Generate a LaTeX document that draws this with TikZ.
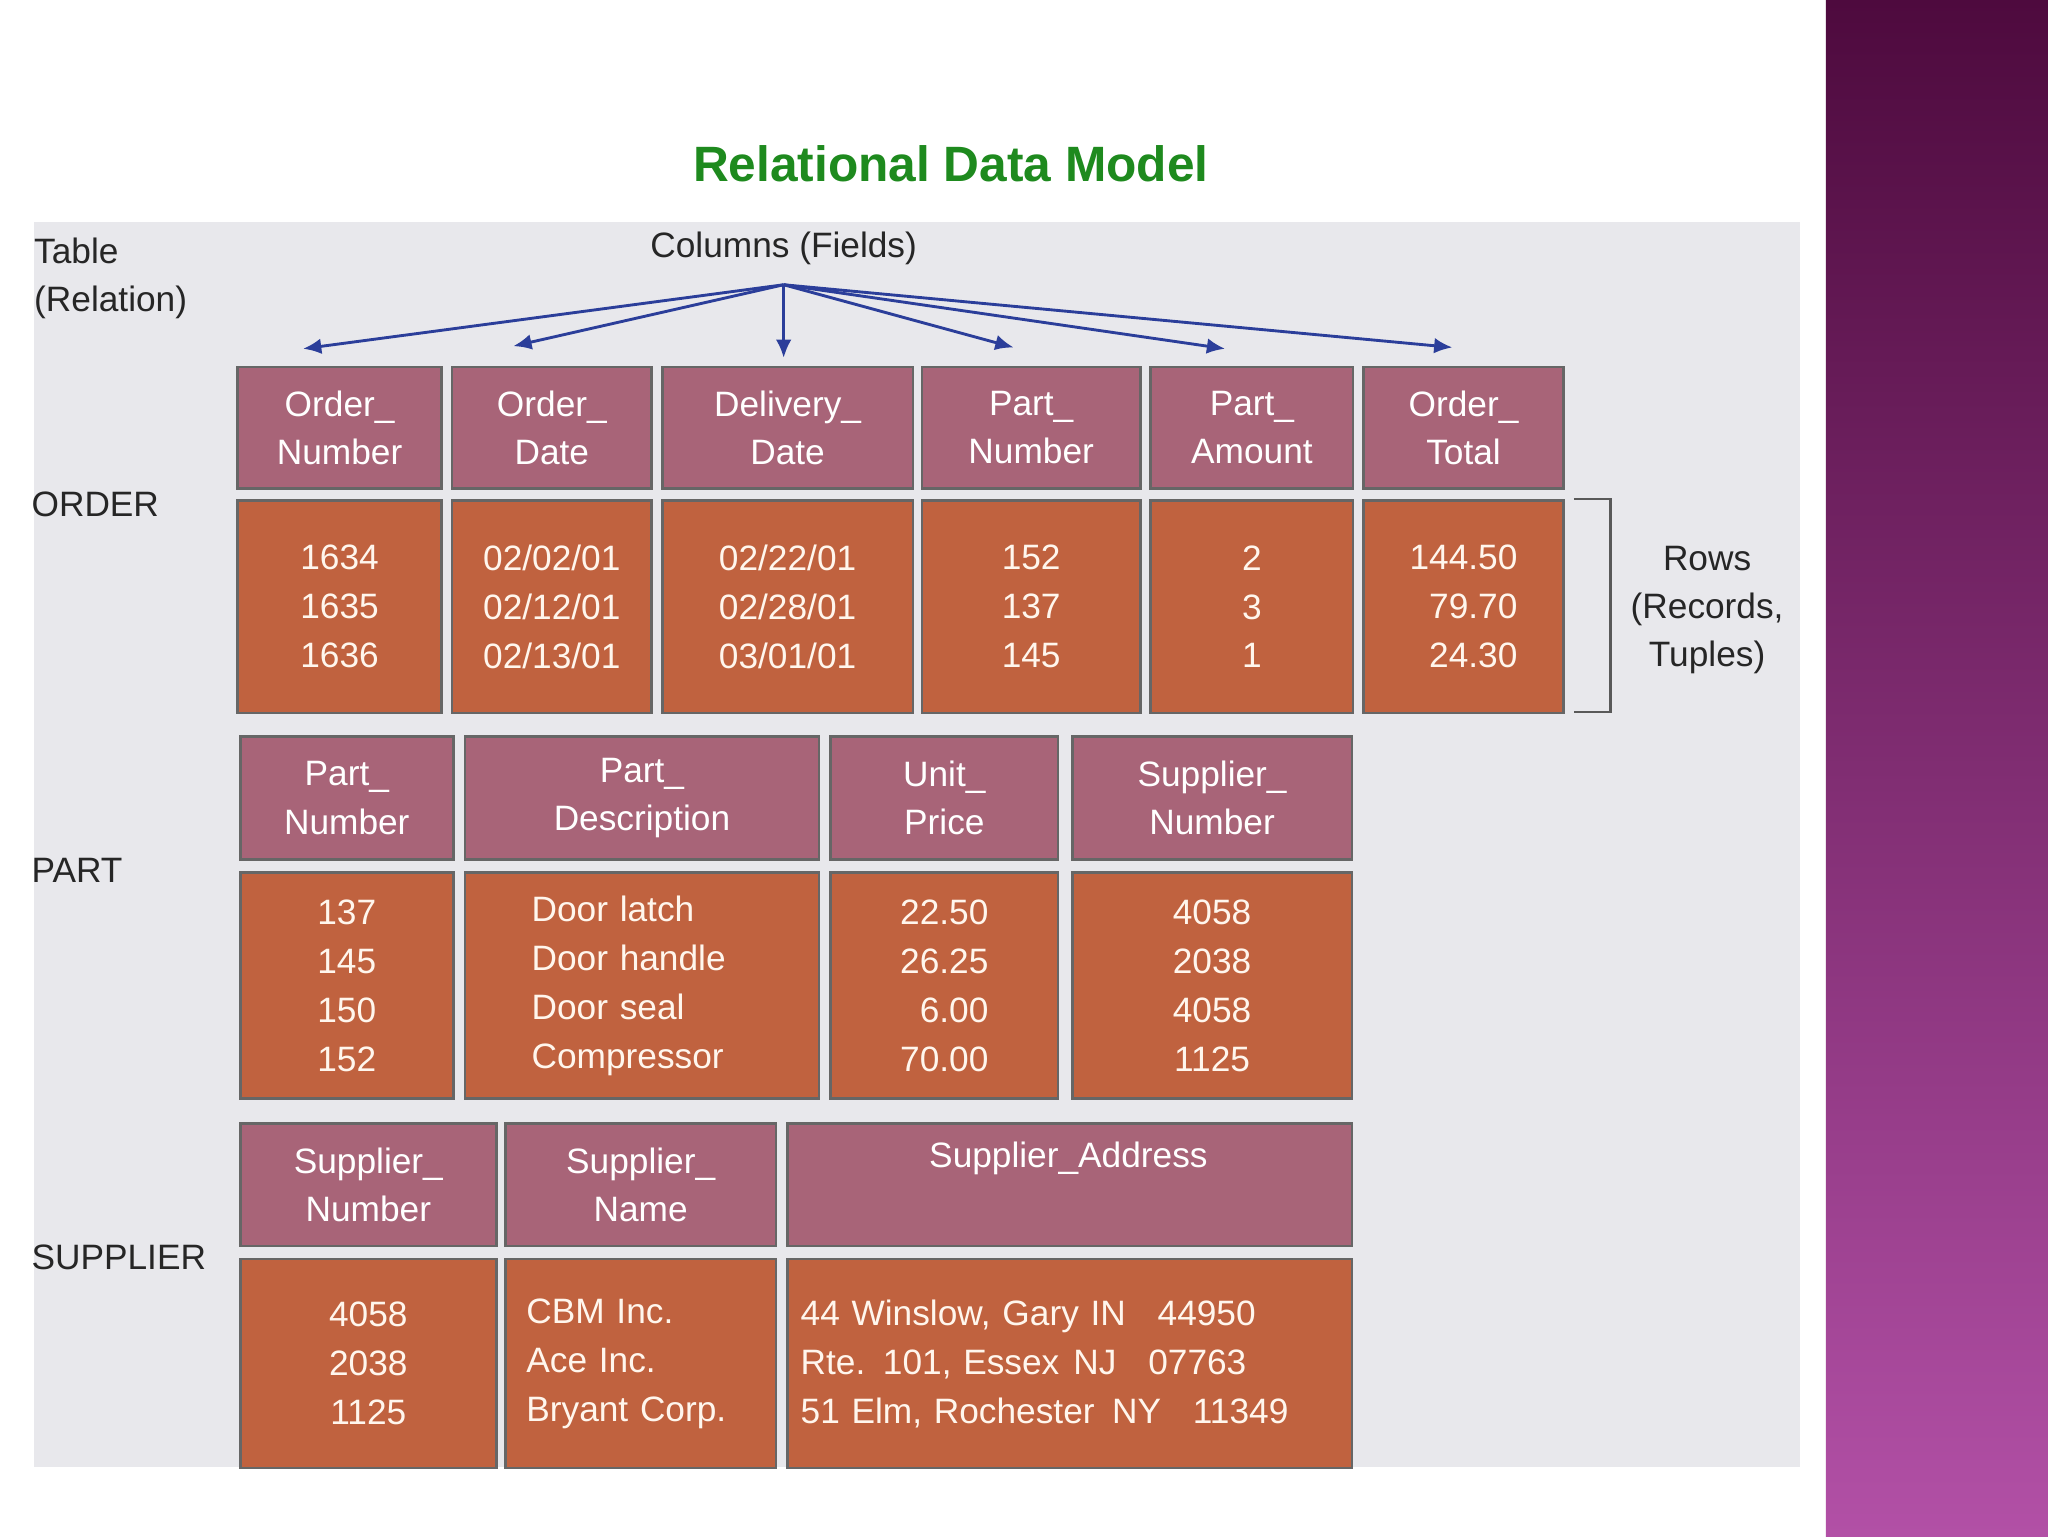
\documentclass[tikz,border=0pt]{standalone}
\usepackage{fontspec}
\setmainfont{Liberation Sans}
\begin{document}
\begin{tikzpicture}[x=1pt,y=-1pt,
  hdr/.style={draw=black!60,line width=2pt,fill=hdrc,text=white,font=\fontsize{27}{37}\selectfont,inner sep=0pt,anchor=north west},
  dat/.style={draw=black!60,line width=2pt,fill=datc,text=white!93!orange,font=\fontsize{27}{37.5}\selectfont,inner sep=0pt,anchor=north west},
  lbl/.style={font=\fontsize{27}{37}\selectfont,text=black!85,inner sep=0pt},
  arr/.style={draw=arrc,line width=2.2pt,-{Latex[length=14pt,width=12pt]}}]
\usetikzlibrary{arrows.meta}
\definecolor{hdrc}{HTML}{A86478}
\definecolor{datc}{HTML}{C0623F}
\definecolor{arrc}{HTML}{2B3E9A}
\definecolor{panel}{HTML}{E8E8EC}
\definecolor{ttl}{HTML}{1E8A1E}
\useasboundingbox (0,0) rectangle (1568,1176);
\fill[white] (0,0) rectangle (1568,1176);
\shade[top color={rgb,255:red,78;green,10;blue,62},bottom color={rgb,255:red,178;green,80;blue,166}] (1398,0) rectangle (1568,1176);
\fill[panel] (26,170) rectangle (1378,1123);
\node[font=\bfseries\fontsize{38}{40}\selectfont,text=ttl] (title) at (728,125) {Relational Data Model};
% labels
\node[lbl,anchor=north west,align=left] (tbl) at (26,182) {Table\\(Relation)};
\node[lbl,anchor=west] (lord) at (24,386) {ORDER};
\node[lbl,anchor=west] (lpart) at (24,666) {PART};
\node[lbl,anchor=west] (lsup) at (24,963) {SUPPLIER};
\node[lbl] (cols) at (600,190) {Columns (Fields)};
\node[lbl,align=center] (rows) at (1307,467) {Rows\\(Records,\\Tuples)};
% ORDER
\node[hdr,minimum width=156,minimum height=93,align=center] (h1) at (181,280) {Order\_\\Number};
\node[hdr,minimum width=153,minimum height=93,align=center] (h2) at (345,280) {Order\_\\Date};
\node[hdr,minimum width=192,minimum height=93,align=center] (h3) at (506,280) {Delivery\_\\Date};
\node[hdr,minimum width=167,minimum height=93,align=center] (h4) at (705,280) {Part\_\\Number};
\node[hdr,minimum width=155,minimum height=93,align=center] (h5) at (880,280) {Part\_\\Amount};
\node[hdr,minimum width=153,minimum height=93,align=center] (h6) at (1043,280) {Order\_\\Total};
\node[dat,minimum width=156,minimum height=163,align=center] (d1) at (181,382) {1634\\1635\\1636};
\node[dat,minimum width=153,minimum height=163,align=center] (d2) at (345,382) {02/02/01\\02/12/01\\02/13/01};
\node[dat,minimum width=192,minimum height=163,align=center] (d3) at (506,382) {02/22/01\\02/28/01\\03/01/01};
\node[dat,minimum width=167,minimum height=163,align=center] (d4) at (705,382) {152\\137\\145};
\node[dat,minimum width=155,minimum height=163,align=center] (d5) at (880,382) {2\\3\\1};
\node[dat,minimum width=153,minimum height=163,align=right] (d6) at (1043,382) {144.50\\79.70\\24.30};
% PART
\node[hdr,minimum width=163,minimum height=94,align=center] (p1) at (183,563) {Part\_\\Number};
\node[hdr,minimum width=271,minimum height=94,align=center] (p2) at (355,563) {Part\_\\Description};
\node[hdr,minimum width=174,minimum height=94,align=center] (p3) at (635,563) {Unit\_\\Price};
\node[hdr,minimum width=214,minimum height=94,align=center] (p4) at (820,563) {Supplier\_\\Number};
\node[dat,minimum width=163,minimum height=173,align=center] (q1) at (183,667) {137\\145\\150\\152};
\node[dat,minimum width=271,minimum height=173,text width=169,align=left] (q2) at (355,667) {Door latch\\Door handle\\Door seal\\Compressor};
\node[dat,minimum width=174,minimum height=173,align=right] (q3) at (635,667) {22.50\\26.25\\6.00\\70.00};
\node[dat,minimum width=214,minimum height=173,align=center] (q4) at (820,667) {4058\\2038\\4058\\1125};
% SUPPLIER
\node[hdr,minimum width=196,minimum height=94,align=center] (s1) at (183,859) {Supplier\_\\Number};
\node[hdr,minimum width=207,minimum height=94,align=center] (s2) at (386,859) {Supplier\_\\Name};
\node[hdr,minimum width=432,minimum height=94] (s3) at (602,859) {};
\node[text=white,font=\fontsize{27}{37}\selectfont] (s3t) at (818,887) {Supplier\_Address};
\node[dat,minimum width=196,minimum height=160,align=center] (t1) at (183,963) {4058\\2038\\1125};
\node[dat,minimum width=207,minimum height=160,text width=175,align=left] (t2) at (386,963) {CBM Inc.\\Ace Inc.\\Bryant Corp.};
\node[dat,minimum width=432,minimum height=160,text width=412,align=left] (t3) at (602,963) {44 Winslow, Gary IN\hspace{0.9em}44950\\Rte. 101, Essex\hspace{0.4em}NJ\hspace{0.9em}07763\\51 Elm, Rochester\hspace{0.5em}NY\hspace{0.9em}11349};
% arrows
\coordinate (src) at (600,218);
\coordinate (a1) at (232,267);
\coordinate (a2) at (393,265);
\coordinate (a3) at (600,274);
\coordinate (a4) at (776,266);
\coordinate (a5) at (938,267);
\coordinate (a6) at (1112,266);
\foreach \t in {a1,a2,a3,a4,a5,a6} \draw[arr] (src) -- (\t);
% bracket
\draw[black!65,line width=2pt] (1205,382) -- (1233,382) -- (1233,545) -- (1205,545);
\end{tikzpicture}
\end{document}
